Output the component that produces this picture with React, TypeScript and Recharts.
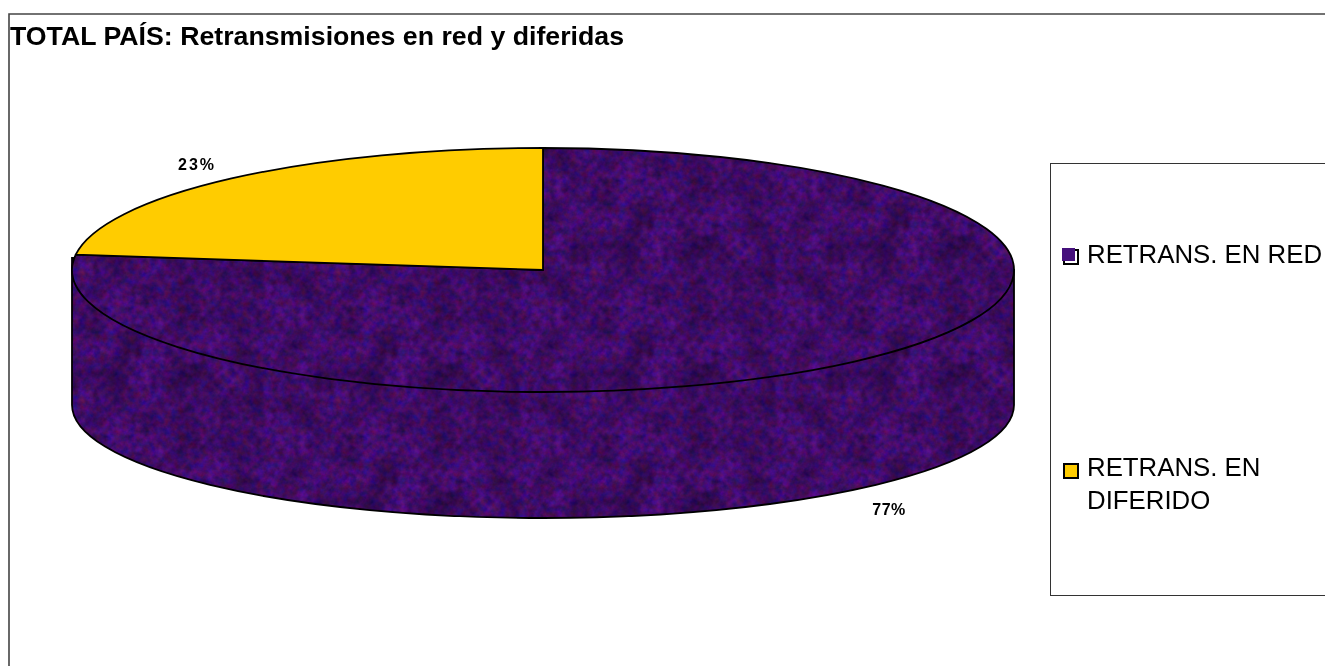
import React from "react";
import { PieChart, Pie, Cell, Legend } from "recharts";

const titleText = "TOTAL PAÍS: Retransmisiones en red y diferidas";
const categories = ["RETRANS. EN RED", "RETRANS. EN DIFERIDO"];
const shares = [77, 23];
const fills = ["url(#purpleMesh)", "#FFCC00"];
const legendLines = [["RETRANS. EN RED"], ["RETRANS. EN", "DIFERIDO"]];

const rows = categories.map((name, i) => ({ name, value: shares[i] }));

const W = 1330;
const H = 658;
const CX = 535;
const CY = 262;
const RX = 471;
const RY = 122;
const WALL_BOTTOM_CY = 397;
const WALL_BOTTOM_RY = 113;
const WALL_TOP = 250;
const FONT = "'Liberation Sans', Arial, sans-serif";

const pt = (cx: number, cy: number, rx: number, ry: number, deg: number) => {
  const t = (deg * Math.PI) / 180;
  return [cx + rx * Math.cos(t), cy - ry * Math.sin(t)];
};

function TiltedSector(props: any) {
  const { cx, cy, outerRadius, startAngle, endAngle, fill, index } = props;
  const ry = (outerRadius * RY) / RX;
  const [sx, sy] = pt(cx, cy, outerRadius, ry, startAngle);
  const [ex, ey] = pt(cx, cy, outerRadius, ry, endAngle);
  const large = Math.abs(endAngle - startAngle) > 180 ? 1 : 0;
  const sweep = endAngle < startAngle ? 1 : 0;
  const top = `M${cx},${cy} L${sx},${sy} A${outerRadius},${ry} 0 ${large} ${sweep} ${ex},${ey} Z`;
  const wall =
    `M${cx - outerRadius},${WALL_TOP} L${cx - outerRadius},${WALL_BOTTOM_CY} ` +
    `A${outerRadius},${WALL_BOTTOM_RY} 0 0 0 ${cx + outerRadius},${WALL_BOTTOM_CY} ` +
    `L${cx + outerRadius},${cy} Z`;
  return (
    <g>
      {index === 0 && <path d={wall} fill={fill} stroke="#000" strokeWidth={1.8} />}
      <path d={top} fill={fill} stroke="#000" strokeWidth={1.8} strokeLinejoin="round" />
    </g>
  );
}

function renderLabel(props: any) {
  const { cx, cy, midAngle, outerRadius, percent } = props;
  const ry = (outerRadius * RY) / RX;
  const [x, y] = pt(cx, cy, outerRadius * 1.13, ry * 1.13, midAngle);
  const lower = Math.sin((midAngle * Math.PI) / 180) < 0;
  return (
    <text
      x={lower ? x - 6 : x + 6}
      y={lower ? y + 137 : y - 1}
      textAnchor="middle"
      dominantBaseline="middle"
      fontFamily={FONT}
      fontWeight="bold"
      fontSize={16}
      letterSpacing={lower ? 0.4 : 2}
      fill="#000"
    >
      {`${Math.round(percent * 100)}%`}
    </text>
  );
}

function LegendBox(props: any) {
  const items = props.payload || [];
  const swatchColors = ["#45107C", "#FFCC00"];
  const textTops = [73.5, 287];
  const swatchTops = [85, 299];
  return (
    <div style={{ position: "relative", width: 290, height: 431, borderLeft: "1px solid #333", borderTop: "1px solid #333", borderBottom: "1px solid #333", fontFamily: FONT, fontSize: 25.8, lineHeight: "33px", color: "#000" }}>
      {items.map((it: any, i: number) => (
        <div key={it.value}>
          <span style={{ position: "absolute", left: 12, top: swatchTops[i], width: 12, height: 12, background: i === 0 ? "#fff" : swatchColors[i], border: "2px solid #000" }} />
          {i === 0 && <span style={{ position: "absolute", left: 11, top: swatchTops[i] - 1, width: 13, height: 13, background: swatchColors[0] }} />}
          <div style={{ position: "absolute", left: 36, top: textTops[i], whiteSpace: "nowrap" }}>
            {legendLines[i].map((l) => (
              <div key={l}>{l}</div>
            ))}
          </div>
        </div>
      ))}
    </div>
  );
}

export default function App() {
  return (
    <div style={{ position: "fixed", left: 8, top: 8, width: W, height: H }}>
      <PieChart width={W} height={H} margin={{ top: 0, right: 0, bottom: 0, left: 0 }}>
        <defs>
          <filter id="meshNoise" x="0" y="0" width="100%" height="100%" colorInterpolationFilters="sRGB">
            <feTurbulence type="fractalNoise" baseFrequency="0.14" numOctaves={3} seed={7} stitchTiles="stitch" result="fine" />
            <feColorMatrix in="fine" type="matrix" values="0.34 0 0 0 0.10  0 0.10 0 0 0  0 0 0.40 0 0.24  0 0 0 0 1" result="tint" />
            <feTurbulence type="fractalNoise" baseFrequency="0.03" numOctaves={2} seed={3} stitchTiles="stitch" result="coarse" />
            <feColorMatrix in="coarse" type="matrix" values="0.7 0 0 0 0.55  0.7 0 0 0 0.55  0.7 0 0 0 0.55  0 0 0 0 1" result="shade" />
            <feBlend in="tint" in2="shade" mode="multiply" />
          </filter>
          <pattern id="purpleMesh" width={256} height={128} patternUnits="userSpaceOnUse">
            <rect width={256} height={128} fill="#45107C" filter="url(#meshNoise)" />
          </pattern>
        </defs>
        <path d={`M1,${H} L1,6 L${W},6`} fill="none" stroke="#444" strokeWidth={1.6} />
        <text x={2} y={36.5} fontFamily={FONT} fontWeight="bold" fontSize={25} textLength={614} lengthAdjust="spacingAndGlyphs" fill="#000">
          {titleText}
        </text>
        <Pie
          data={rows}
          dataKey="value"
          nameKey="name"
          cx={CX}
          cy={CY}
          innerRadius={0}
          outerRadius={RX}
          startAngle={90}
          endAngle={-270}
          stroke="#000"
          isAnimationActive={false}
          shape={TiltedSector}
          label={renderLabel}
          labelLine={false}
        >
          {rows.map((r, i) => (
            <Cell key={r.name} fill={fills[i]} />
          ))}
        </Pie>
        <Legend
          content={<LegendBox />}
          layout="vertical"
          align="right"
          verticalAlign="top"
          wrapperStyle={{ position: "absolute", left: 1042, top: 155, width: 290, height: 433 }}
        />
      </PieChart>
    </div>
  );
}
